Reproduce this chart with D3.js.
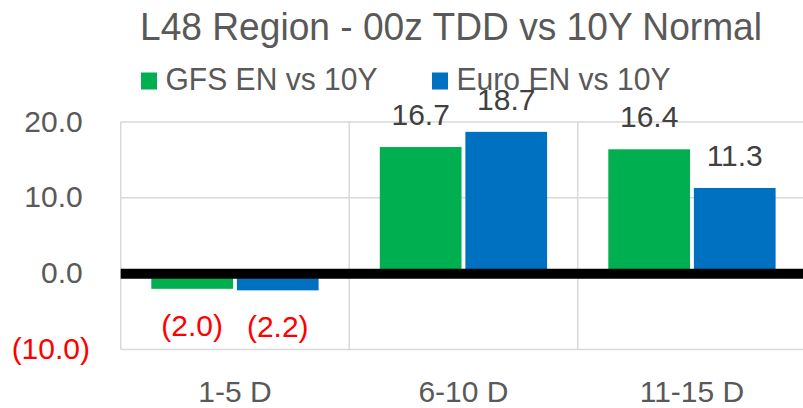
<!DOCTYPE html>
<html>
<head>
<meta charset="utf-8">
<script src="https://cdn.jsdelivr.net/npm/d3@7/dist/d3.min.js"></script>
<style>
  html, body { margin: 0; padding: 0; background: #fff; }
  svg { display: block; }
  text { font-family: "Liberation Sans", Arial, sans-serif; }
</style>
</head>
<body>
<svg id="chart" width="803" height="408"></svg>
<script>
const titleText = "L48 Region - 00z TDD vs 10Y Normal";
const categories = ["1-5 D", "6-10 D", "11-15 D"];
const seriesNames = ["GFS EN vs 10Y", "Euro EN vs 10Y"];
const seriesColors = ["#00B050", "#0070C0"];
const gfsValues = [-2.0, 16.7, 16.4];
const euroValues = [-2.2, 18.7, 11.3];
const yTicks = [-10, 0, 10, 20];
const yDomain = [-10, 20];

const seriesValues = [gfsValues, euroValues];
const svg = d3.select("#chart");

const plotLeft = 120.7, plotRight = 806.2, plotTop = 122, plotBottom = 349.5;

const x0 = d3.scaleBand().domain(categories).range([plotLeft, plotRight]).paddingInner(0).paddingOuter(0);
const x1 = d3.scaleBand().domain(seriesNames).range([30.6, x0.bandwidth() - 30.6]).paddingInner(0.045).paddingOuter(0);
const y = d3.scaleLinear().domain(yDomain).range([plotBottom, plotTop]);

const fmt = v => v < 0 ? `(${Math.abs(v).toFixed(1)})` : v.toFixed(1);
const gridColor = "#d9d9d9";

// horizontal gridlines
svg.append("g").selectAll("line").data(yTicks.filter(t => t !== 0)).join("line")
  .attr("x1", plotLeft).attr("x2", plotRight)
  .attr("y1", d => y(d)).attr("y2", d => y(d))
  .attr("stroke", gridColor).attr("stroke-width", 1.5);

// vertical gridlines (category boundaries)
const bounds = categories.map(c => x0(c)).concat([plotRight]);
svg.append("g").selectAll("line").data(bounds).join("line")
  .attr("x1", d => d).attr("x2", d => d)
  .attr("y1", plotTop).attr("y2", plotBottom)
  .attr("stroke", gridColor).attr("stroke-width", 1.5);

// bars
const rows = [];
categories.forEach((c, i) => seriesNames.forEach((s, j) => rows.push({c, s, j, v: seriesValues[j][i]})));

svg.append("g").selectAll("rect").data(rows).join("rect")
  .attr("x", d => x0(d.c) + x1(d.s))
  .attr("width", x1.bandwidth())
  .attr("y", d => Math.min(y(d.v), y(0)))
  .attr("height", d => Math.abs(y(d.v) - y(0)))
  .attr("fill", d => seriesColors[d.j]);

// zero line
svg.append("line")
  .attr("x1", plotLeft).attr("x2", 803)
  .attr("y1", y(0)).attr("y2", y(0))
  .attr("stroke", "#000").attr("stroke-width", 10);

// data labels
svg.append("g").selectAll("text").data(rows).join("text")
  .attr("x", d => x0(d.c) + x1(d.s) + x1.bandwidth() / 2)
  .attr("y", d => d.v >= 0 ? y(d.v) - 22 : y(d.v) + 47)
  .attr("text-anchor", "middle")
  .attr("font-size", 30)
  .attr("fill", d => d.v < 0 ? "#FF0000" : "#404040")
  .text(d => fmt(d.v));

// y axis labels
svg.append("g").selectAll("text").data(yTicks).join("text")
  .attr("x", d => d < 0 ? 90 : 82.7)
  .attr("y", d => y(d) + 9.5)
  .attr("text-anchor", "end")
  .attr("font-size", 30)
  .attr("fill", d => d < 0 ? "#FF0000" : "#595959")
  .text(d => fmt(d));

// category labels
svg.append("g").selectAll("text").data(categories).join("text")
  .attr("x", d => x0(d) + x0.bandwidth() / 2)
  .attr("y", 402)
  .attr("text-anchor", "middle")
  .attr("font-size", 30)
  .attr("fill", "#595959")
  .text(d => d);

// title
svg.append("text")
  .attr("x", 140).attr("y", 40)
  .attr("font-size", 39)
  .attr("fill", "#595959")
  .attr("textLength", 622).attr("lengthAdjust", "spacingAndGlyphs")
  .text(titleText);

// legend
const legendX = [141, 432];
const legendW = [212, 214];
const lg = svg.append("g").selectAll("g").data(seriesNames).join("g");
lg.append("rect")
  .attr("x", (d, i) => legendX[i]).attr("y", 72.5)
  .attr("width", 16).attr("height", 17)
  .attr("fill", (d, i) => seriesColors[i]);
lg.append("text")
  .attr("x", (d, i) => legendX[i] + 24.5).attr("y", 90)
  .attr("font-size", 32)
  .attr("fill", "#595959")
  .attr("textLength", (d, i) => legendW[i]).attr("lengthAdjust", "spacingAndGlyphs")
  .text(d => d);
</script>
</body>
</html>
